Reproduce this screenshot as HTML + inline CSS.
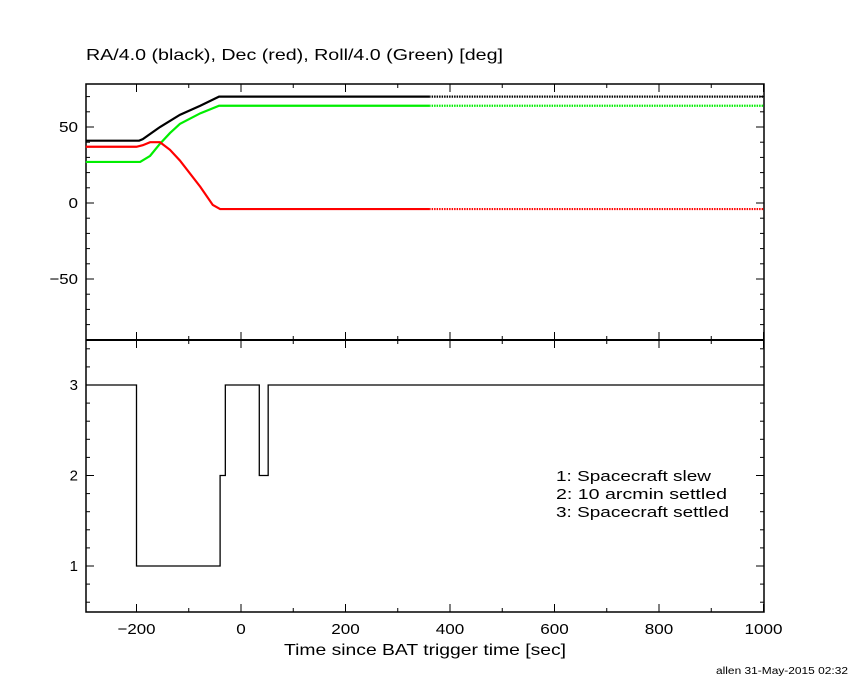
<!DOCTYPE html>
<html><head><meta charset="utf-8"><style>
body{margin:0;background:#fff}
svg text{font-family:"Liberation Sans",sans-serif;fill:#000}
</style></head><body>
<svg id="c" width="850" height="680" xmlns="http://www.w3.org/2000/svg"></svg>
<script>
const tRA=[-300,-195,-188,-155,-117,-78,-42,360];
const vRA=[41,41,42,50,58,64,70,70];
const tDec=[-300,-200,-188,-174,-155,-136,-117,-78,-54,-40,360];
const vDec=[37,37,38,40,40,35,28,10.7,-1.3,-4,-4];
const tRoll=[-300,-193,-174,-155,-136,-117,-78,-42,360];
const vRoll=[27,27,31,39,46,52,59,64,64];
const stepT=[-300,-200,-40,-30,35,52,1000];
const stepV=[3,1,2,3,2,3,3];
const xTicks=[-200,0,200,400,600,800,1000];
const topTicks=[-50,0,50];
const botTicks=[1,2,3];
const NS='http://www.w3.org/2000/svg';
const svg=document.getElementById('c');
const X=t=>241+(t)*0.5225;
const YT=v=>203-v*1.52;
const YB=v=>385+(3-v)*90.5;
function el(tag,a,txt){const e=document.createElementNS(NS,tag);for(const k in a)e.setAttribute(k,a[k]);if(txt!=null)e.textContent=txt;svg.appendChild(e);return e;}
const L=86,R=764,T=84,M=340,B=612;
let f;
f=el('rect',{x:L,y:T,width:R-L,height:B-T,fill:'none',stroke:'#000','stroke-width':1.5});

f=el('line',{x1:L,x2:R,y1:M,y2:M,stroke:'#000','stroke-width':2});

for(let t=-300;t<=1000;t+=100){const x=X(t);if(x<L)continue;const major=t%200===0;const len=major?8:4;
 for(const [y0,dir] of [[B,-1],[M,-1],[M,1],[T,1]]){el('line',{x1:x,x2:x,y1:y0,y2:y0+dir*len,stroke:'#000','stroke-width':1});}}
xTicks.forEach(t=>{const s=t<0?'\u2212'+(-t):String(t);const e=el('text',{x:X(t),y:634,'text-anchor':'middle','font-size':15,textLength:s.length*9.5,lengthAdjust:'spacingAndGlyphs'},s);});
for(let v=-90;v<=70;v+=10){const y=YT(v);const len=v%50===0?8:4;el('line',{x1:L,x2:L+len,y1:y,y2:y,stroke:'#000'});el('line',{x1:R,x2:R-len,y1:y,y2:y,stroke:'#000'});}
topTicks.forEach(v=>{const s=v<0?'\u2212'+(-v):String(v);const e=el('text',{x:78,y:YT(v)+5,'text-anchor':'end','font-size':15,textLength:s.length*9.5,lengthAdjust:'spacingAndGlyphs'},s);});
for(let i=3;i<=17;i++){const v=i/5;const y=YB(v);const len=i%5===0?8:4;el('line',{x1:L,x2:L+len,y1:y,y2:y,stroke:'#000'});el('line',{x1:R,x2:R-len,y1:y,y2:y,stroke:'#000'});}
botTicks.forEach(v=>{const e=el('text',{x:78,y:YB(v)+5,'text-anchor':'end','font-size':15},v);});
function series(ts,vs,color,name,endV){
 const pts=ts.map((t,i)=>X(Math.max(t,-297))+','+YT(vs[i])).join(' ');
 let e=el('polyline',{points:pts,fill:'none',stroke:color,'stroke-width':2.2});
 
 e=el('line',{x1:X(360),x2:X(1000),y1:YT(endV),y2:YT(endV),stroke:color,'stroke-width':2.2,'stroke-dasharray':'1.5,1'});
 
}
series(tRA,vRA,'#000','ra',vRA[vRA.length-1]);
series(tRoll,vRoll,'#00ee00','roll',vRoll[vRoll.length-1]);
series(tDec,vDec,'#ff0000','dec',vDec[vDec.length-1]);
let d='M'+X(-297)+','+YB(stepV[0]);
for(let i=1;i<stepT.length;i++){d+=' H'+X(stepT[i])+' V'+YB(stepV[i]);}
f=el('path',{d:d,fill:'none',stroke:'#000','stroke-width':1.3});

const texts=[[86,60,'RA/4.0 (black), Dec (red), Roll/4.0 (Green) [deg]',16,'start','top-title',417],
[284,655,'Time since BAT trigger time [sec]',16,'start','x-axis-title',282],
[556,481,'1: Spacecraft slew',15,'start','legend-slew',155],
[556,499,'2: 10 arcmin settled',15,'start','legend-10arcmin',171],
[556,517,'3: Spacecraft settled',15,'start','legend-settled',173],
[716,674,'allen 31-May-2015 02:32',10,'start','footer-stamp',132]];
texts.forEach(a=>{const e=el('text',{x:a[0],y:a[1],'font-size':a[3],'text-anchor':a[4],textLength:a[6],lengthAdjust:'spacingAndGlyphs'},a[2]);});
</script>
</body></html>
